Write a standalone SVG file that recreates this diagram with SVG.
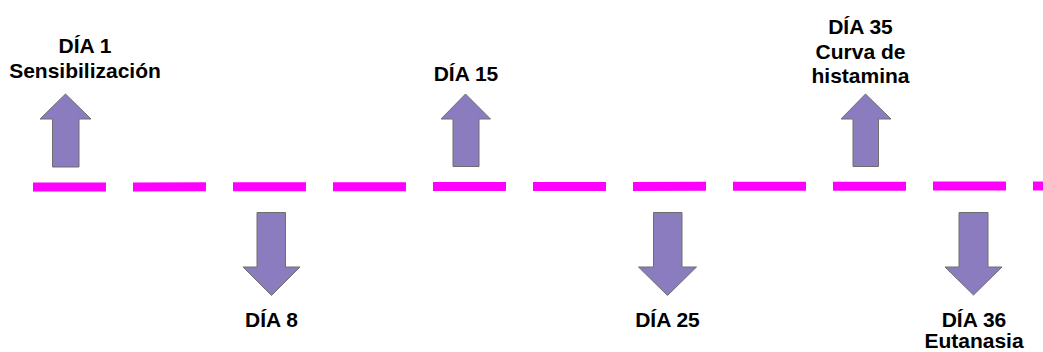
<svg xmlns="http://www.w3.org/2000/svg" width="1043" height="352" viewBox="0 0 1043 352">
<style>
.arrow{fill:#8a7cbf;stroke:#6e6e6e;stroke-width:1}
.lbl{font-family:"Liberation Sans",Arial,sans-serif;font-weight:bold;font-size:21px;fill:#000;text-anchor:middle}
</style>
<rect width="1043" height="352" fill="#fff"/>
<g id="connectors">
<line x1="33" y1="187" x2="1043" y2="186" stroke="#ff00ff" stroke-width="9" stroke-dasharray="73 27"/>
</g>
<g id="dia1">
<polygon class="arrow" points="65.5,94 91,119 79,119 79,167 52.5,167 52.5,119 40,119"/>
<text class="lbl" x="85" y="53">DÍA 1</text>
<text class="lbl" x="85" y="78">Sensibilización</text>
</g>
<g id="dia8">
<polygon class="arrow" points="257,212.5 285.5,212.5 285.5,267 300,267 271.5,295.5 243,267 257,267"/>
<text class="lbl" x="271.5" y="327">DÍA 8</text>
</g>
<g id="dia15">
<polygon class="arrow" points="465.5,94 490.5,119 479,119 479,166.5 453,166.5 453,119 441,119"/>
<text class="lbl" x="466" y="81">DÍA 15</text>
</g>
<g id="dia25">
<polygon class="arrow" points="653.5,212.5 682,212.5 682,267 696.5,267 667.5,295.5 638.5,267 653.5,267"/>
<text class="lbl" x="667.5" y="327">DÍA 25</text>
</g>
<g id="dia35">
<polygon class="arrow" points="865.5,94 891,119 878.5,119 878.5,166.5 853,166.5 853,119 841,119"/>
<text class="lbl" x="860.5" y="34">DÍA 35</text>
<text class="lbl" x="860.5" y="59">Curva de</text>
<text class="lbl" x="860.5" y="83">histamina</text>
</g>
<g id="dia36">
<polygon class="arrow" points="959,212.5 988,212.5 988,267 1002,267 973.5,295 945,267 959,267"/>
<text class="lbl" x="974" y="327">DÍA 36</text>
<text class="lbl" x="974" y="348">Eutanasia</text>
</g>
</svg>
